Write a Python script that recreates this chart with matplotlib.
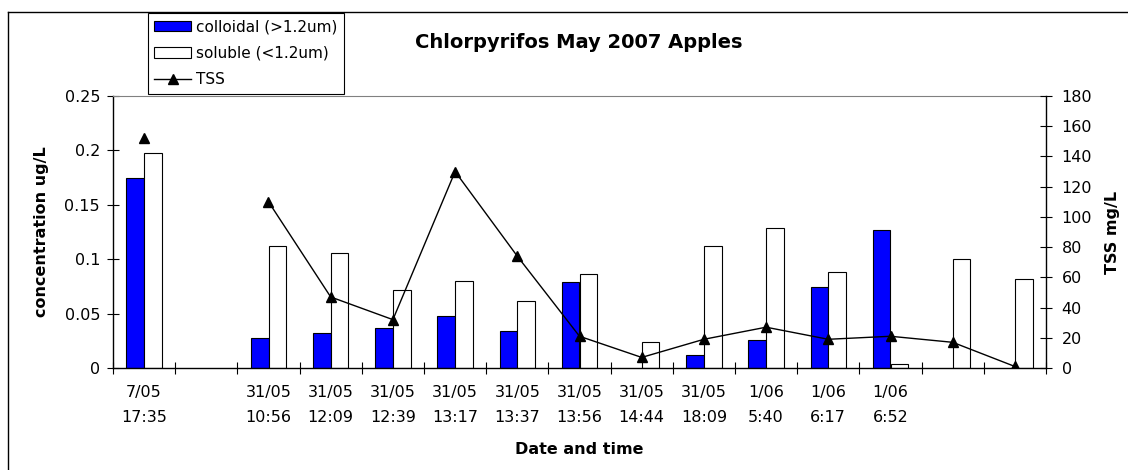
import matplotlib
matplotlib.use("Agg")
import matplotlib.pyplot as plt
import numpy as np
from matplotlib.lines import Line2D
from matplotlib.patches import Patch

plt.rcParams['font.family'] = ['DejaVu Sans']

# chart data
categories = ["7/05\n17:35", "",
              "31/05\n10:56", "31/05\n12:09", "31/05\n12:39", "31/05\n13:17",
              "31/05\n13:37", "31/05\n13:56", "31/05\n14:44", "31/05\n18:09",
              "1/06\n5:40", "1/06\n6:17", "1/06\n6:52", "", ""]
colloidal = [0.175, np.nan, 0.028, 0.032, 0.037, 0.048, 0.034, 0.079,
             np.nan, 0.012, 0.026, 0.074, 0.127, np.nan, np.nan]
soluble = [0.198, np.nan, 0.112, 0.106, 0.072, 0.080, 0.062, 0.086,
           0.024, 0.112, 0.129, 0.088, 0.004, 0.100, 0.082]
tss = [152, np.nan, 110, 47, 32, 130, 74, 21, 7, 19, 27, 19, 21, 17, 1]

left_ticks = [0, 0.05, 0.1, 0.15, 0.2, 0.25]
left_labels = ["0", "0.05", "0.1", "0.15", "0.2", "0.25"]
right_ticks = list(range(0, 181, 20))

fs = 11.5
W, H = 1128, 470
fig = plt.figure(figsize=(W / 100, H / 100), dpi=100)
ax = fig.add_axes([113 / W, 1 - 368 / H, (1046 - 113) / W, (368 - 96) / H])
ax2 = ax.twinx()

x = np.arange(len(categories))
bw = 0.286
ax.bar(x - bw, colloidal, bw, align='edge', color='#0000FF',
       edgecolor='black', linewidth=0.8)
ax.bar(x, soluble, bw, align='edge', color='white',
       edgecolor='black', linewidth=0.8)
ax2.plot(x, tss, color='black', linewidth=1.0, marker='^', markersize=7.5)

ax.set_xlim(-0.5, len(categories) - 0.5)
ax.set_ylim(0, 0.25)
ax2.set_ylim(0, 180)

ax.set_yticks(left_ticks)
ax.set_yticklabels(left_labels)
ax2.set_yticks(right_ticks)

# boundary ticks, labels in the middle of each category
ax.set_xticks(np.arange(-0.5, len(categories), 1.0))
ax.set_xticklabels([])
ax.set_xticks(x, minor=True)
ax.set_xticklabels(categories, minor=True, fontsize=fs, linespacing=1.85)
ax.tick_params(axis='x', which='major', direction='inout', length=8.6, width=0.8)
ax.tick_params(axis='x', which='minor', length=0, pad=12)
ax.tick_params(axis='y', direction='inout', length=8.6, width=0.8,
               labelsize=fs, pad=5)
ax2.tick_params(axis='y', direction='inout', length=8.6, width=0.8,
                labelsize=fs, pad=7)

for s in ['left', 'bottom']:
    ax.spines[s].set_linewidth(1.0)
ax.spines['top'].set_color('#808080')
ax.spines['right'].set_visible(False)
for s in ['left', 'top', 'bottom']:
    ax2.spines[s].set_visible(False)
ax2.spines['right'].set_linewidth(1.0)

ax.set_ylabel("concentration ug/L", fontsize=fs, fontweight='bold', labelpad=11)
ax2.set_ylabel("TSS mg/L", fontsize=fs, fontweight='bold', labelpad=9)
ax.set_xlabel("Date and time", fontsize=fs, fontweight='bold', labelpad=12)

fig.text(0.513, 1 - 42 / H, "Chlorpyrifos May 2007 Apples", fontsize=14,
         fontweight='bold', ha='center', va='center')

handles = [Patch(facecolor='#0000FF', edgecolor='black', linewidth=0.8),
           Patch(facecolor='white', edgecolor='black', linewidth=0.8),
           Line2D([], [], color='black', linewidth=1.0, marker='^', markersize=7.5)]
labels = ['colloidal (>1.2um)', 'soluble (<1.2um)', 'TSS']
leg = fig.legend(handles, labels, loc='upper left',
                 bbox_to_anchor=(148 / W, 1 - 13 / H), borderaxespad=0,
                 fontsize=11, frameon=True, fancybox=False, framealpha=1,
                 edgecolor='black', handlelength=2.4, handletextpad=0.33,
                 labelspacing=0.75, borderpad=0.42)
leg.get_frame().set_linewidth(0.8)

# outer chart border (top and left only visible)
fig.add_artist(Line2D([8 / W, 1], [1 - 12 / H, 1 - 12 / H],
                      transform=fig.transFigure, color='black', linewidth=1.0))
fig.add_artist(Line2D([8 / W, 8 / W], [0, 1 - 12 / H],
                      transform=fig.transFigure, color='black', linewidth=1.0))

fig.savefig("out.png", dpi=100)
